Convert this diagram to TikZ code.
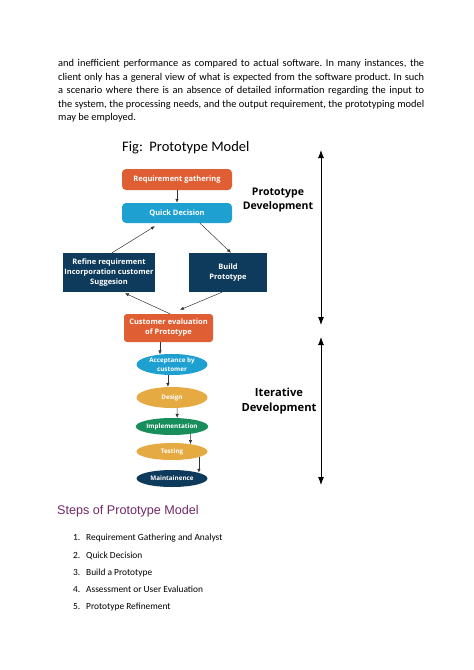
\documentclass[tikz,border=0pt]{standalone}
\usepackage{fontspec}
\setmainfont{Carlito}
\newfontfamily\boxfont{Open Sans}
\newfontfamily\headfont{Liberation Sans}
\usetikzlibrary{arrows.meta,shapes.geometric}
\definecolor{protoorange}{RGB}{224,94,52}
\definecolor{protocyan}{RGB}{30,160,208}
\definecolor{protonavy}{RGB}{14,58,92}
\definecolor{protogold}{RGB}{230,170,66}
\definecolor{protogreen}{RGB}{24,142,92}
\definecolor{headpurple}{RGB}{112,40,104}
\frenchspacing

\begin{document}
\begin{tikzpicture}[x=1pt,y=-1pt,
    flowbox/.style={text=white,inner sep=0pt,align=center,
      font=\boxfont\bfseries\fontsize{7.5}{10}\selectfont},
    stagebox/.style={ellipse,text=white,inner sep=0pt,align=center,minimum width=71pt,
      font=\boxfont\bfseries\fontsize{6.3}{8.5}\selectfont},
    flowarrow/.style={-{Latex[length=4pt,width=3.4pt]},draw=black!80,line width=0.5pt},
    spanarrow/.style={{Latex[length=8pt,width=6pt]}-{Latex[length=8pt,width=6pt]},line width=0.9pt},
    sidelabel/.style={align=center,inner sep=0pt},
    stepitem/.style={anchor=base west,inner sep=0pt,font=\fontsize{9.4}{11}\selectfont}]
  \useasboundingbox (0,0) rectangle (474,670);

  % running text above the figure
  \node[anchor=north west,inner sep=0pt,text width=366pt,align=justify,
        font=\fontsize{10.4}{13.4}\selectfont] (intro) at (58,59.5)
    {and inefficient performance as compared to actual software. In many instances, the\linebreak
     client only has a general view of what is expected from the software product. In such\linebreak
     a scenario where there is an absence of detailed information regarding the input to\linebreak
     the system, the processing needs, and the output requirement, the prototyping model\linebreak
     may be employed.};

  % figure
  \node[anchor=base west,inner sep=0pt,font=\fontsize{14.5}{16}\selectfont] (figtitle) at (122,151)
    {Fig:\ \ Prototype Model};

  \node[flowbox,fill=protoorange,rounded corners=4pt,minimum width=110pt,minimum height=21pt]
    (reqgather) at (177,179.5) {Requirement gathering};
  \node[flowbox,fill=protocyan,rounded corners=4pt,minimum width=110pt,minimum height=20pt]
    (quickdec) at (177,213) {Quick Decision};
  \node[flowbox,fill=protonavy,minimum width=92pt,minimum height=39pt]
    (refine) at (109,272.5) {Refine requirement\\Incorporation customer\\Suggesion};
  \node[flowbox,fill=protonavy,minimum width=78pt,minimum height=39pt]
    (build) at (228,272.5) {Build\\Prototype};
  \node[flowbox,fill=protoorange,rounded corners=3pt,minimum width=89pt,minimum height=28pt]
    (custeval) at (168.5,328) {Customer evaluation\\of Prototype};

  \node[stagebox,fill=protocyan,minimum height=21pt] (accept) at (172,364.5) {Acceptance by\\customer};
  \node[stagebox,fill=protogold,minimum height=21pt] (design) at (172,397.5) {Design};
  \node[stagebox,fill=protogreen,minimum height=17pt] (implement) at (172,426.5) {Implementation};
  \node[stagebox,fill=protogold,minimum height=17pt] (testing) at (172,451.5) {Testing};
  \node[stagebox,fill=protonavy,minimum height=17pt] (maintain) at (172,478.5) {Maintainence};

  \draw[flowarrow] (reqgather) -- (quickdec);
  \draw[flowarrow] ([xshift=23pt]quickdec.south) -- ([xshift=3pt]build.north);
  \draw[flowarrow] ([xshift=-6pt]build.south) -- ([xshift=11.5pt,yshift=4pt]custeval.north);
  \draw[flowarrow] ([xshift=1.5pt]custeval.north) -- ([xshift=16pt,yshift=-1pt]refine.south);
  \draw[flowarrow] ([xshift=3pt]refine.north) -- ([xshift=-22pt,yshift=-3pt]quickdec.south);

  \draw[flowarrow] (custeval.south -| accept.140) -- (accept.140);
  \draw[flowarrow] (accept.-111) -- (design.111);
  \draw[flowarrow] (design.-64) -- (implement.59);
  \draw[flowarrow] (implement.-22) -- (testing.22);
  \draw[flowarrow] (testing.-12) -- (maintain.12);

  % phase arrows on the right
  \coordinate (protoTop) at (321,150);
  \coordinate (protoBottom) at (321,325);
  \coordinate (iterTop) at (321,337);
  \coordinate (iterBottom) at (321,485);
  \draw[spanarrow] (protoTop) -- (protoBottom);
  \draw[spanarrow] (iterTop) -- (iterBottom);
  \node[sidelabel,font=\boxfont\bfseries\fontsize{10.5}{14}\selectfont] (protolabel) at (278,200)
    {Prototype\\Development};
  \node[sidelabel,font=\boxfont\bfseries\fontsize{11.2}{15}\selectfont] (iterlabel) at (279,401)
    {Iterative\\Development};

  % steps list
  \node[anchor=base west,inner sep=0pt,text=headpurple,font=\headfont\fontsize{12.6}{15}\selectfont]
    (stepshead) at (57,514) {Steps of Prototype Model};
  \node[stepitem] (num1) at (73,540.7) {1.};
  \node[stepitem] (item1) at (86,540.7) {Requirement Gathering and Analyst};
  \node[stepitem] (num2) at (73,558) {2.};
  \node[stepitem] (item2) at (86,558) {Quick Decision};
  \node[stepitem] (num3) at (73,575) {3.};
  \node[stepitem] (item3) at (86,575) {Build a Prototype};
  \node[stepitem] (num4) at (73,592.3) {4.};
  \node[stepitem] (item4) at (86,592.3) {Assessment or User Evaluation};
  \node[stepitem] (num5) at (73,609.7) {5.};
  \node[stepitem] (item5) at (86,609.7) {Prototype Refinement};
\end{tikzpicture}
\end{document}
